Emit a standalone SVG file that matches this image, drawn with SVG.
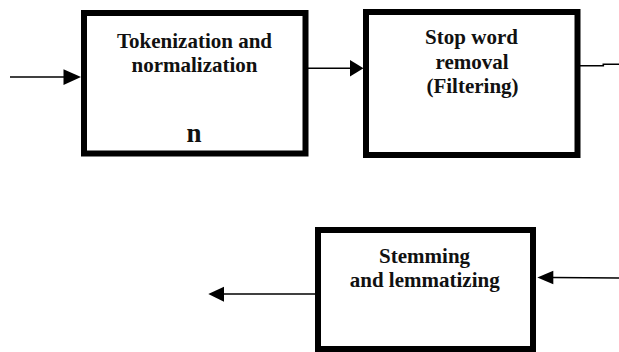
<svg xmlns="http://www.w3.org/2000/svg" width="619" height="352" viewBox="0 0 619 352">
  <style>
    .box { fill: #ffffff; stroke: #000000; stroke-width: 6; }
    .lbl { font-family: "Liberation Serif", "Times New Roman", serif; font-weight: bold; font-size: 21px; fill: #111111; text-anchor: middle; }
    .big { font-family: "Liberation Serif", "Times New Roman", serif; font-weight: bold; font-size: 27px; fill: #111111; text-anchor: middle; }
    .wire { fill: none; stroke: #000000; stroke-width: 1.6; }
    .head { fill: #000000; stroke: none; }
  </style>
  <rect width="619" height="352" fill="#ffffff"/>
  <g id="node-tokenization">
    <rect class="box" x="84" y="13" width="221.5" height="140.5"/>
    <text class="lbl" x="194.5" y="48.3">Tokenization and</text>
    <text class="lbl" x="194.5" y="72.3">normalization</text>
    <text class="big" x="194" y="142">n</text>
  </g>
  <g id="node-stopword">
    <rect class="box" x="366" y="12" width="211.5" height="143"/>
    <text class="lbl" x="471.5" y="44.3">Stop word</text>
    <text class="lbl" x="472" y="68.5">removal</text>
    <text class="lbl" x="472.5" y="93">(Filtering)</text>
  </g>
  <g id="node-stemming">
    <rect class="box" x="318" y="230" width="215" height="119"/>
    <text class="lbl" x="424.6" y="262.7">Stemming</text>
    <text class="lbl" x="424.7" y="287.3">and lemmatizing</text>
  </g>
  <g id="connectors">
    <line class="wire" x1="10" y1="77" x2="65" y2="77"/>
    <polygon class="head" points="81,77 63.5,69.3 63.5,85"/>
    <line class="wire" x1="308" y1="68.3" x2="351" y2="68.3"/>
    <polygon class="head" points="363.5,68.3 350,60 350,76.5"/>
    <polyline class="wire" points="580,65.8 603.3,65.8 603.3,64.3 619,64.3"/>
    <line class="wire" x1="619" y1="278" x2="552" y2="277.5"/>
    <polygon class="head" points="537.3,277.5 553.3,270.7 553.3,284.3"/>
    <line class="wire" x1="315" y1="294" x2="223" y2="294"/>
    <polygon class="head" points="208.3,294 224,286.7 224,301.7"/>
  </g>
</svg>
